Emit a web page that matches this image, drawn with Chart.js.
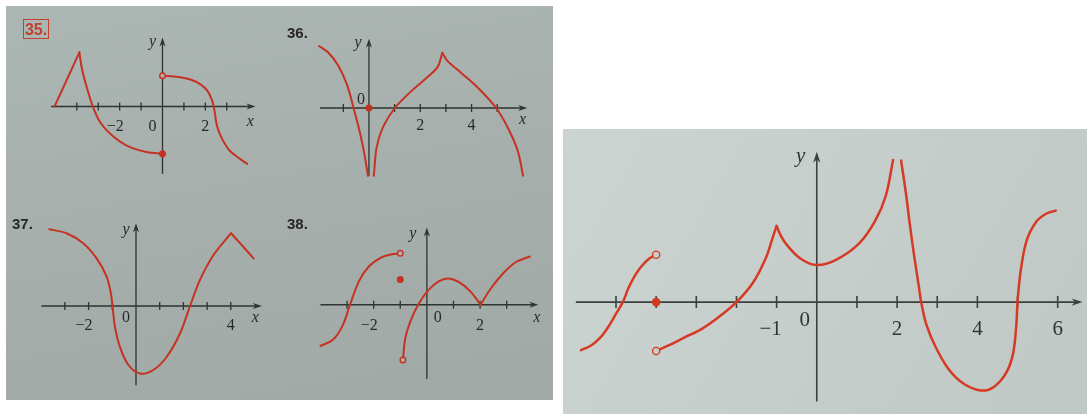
<!DOCTYPE html>
<html>
<head>
<meta charset="utf-8">
<script src="https://cdn.jsdelivr.net/npm/chart.js"></script>
<style>
  body { margin: 0; width: 1087px; height: 414px; background: #fff; position: relative; overflow: hidden; }
  .photo { position: absolute; }
  #leftPhoto { left: 6px; top: 6px; width: 547px; height: 394px; background: linear-gradient(170deg, #acb6b3 0%, #a5aeaa 55%, #a0a9a5 100%); }
  #rightPhoto { left: 563px; top: 129px; width: 524px; height: 285px; background: linear-gradient(120deg, #cbd4cf 0%, #c5cecb 50%, #bfc8c5 100%); }
  canvas { position: absolute; }
  .num { position: absolute; font: bold 15px 'Liberation Sans', Arial, sans-serif; color: #262626; line-height: 15px; }
  #n35 { left: 23px; top: 19px; width: 24px; height: 18px; border: 1.5px solid #c0412f; color: #c0412f; text-align: center; line-height: 19px; font-size: 16px; }
</style>
</head>
<body>
<div class="photo" id="leftPhoto"></div>
<div class="photo" id="rightPhoto"></div>
<canvas id="c35"></canvas>
<canvas id="c36"></canvas>
<canvas id="c37"></canvas>
<canvas id="c38"></canvas>
<canvas id="cMain"></canvas>
<div class="num" id="n35">35.</div>
<div class="num" style="left:287px; top:25px;">36.</div>
<div class="num" style="left:12px; top:216px;">37.</div>
<div class="num" style="left:287px; top:216px;">38.</div>
<script>
// ---- data (x, y in graph units) ----

// 35
const p35Rise = [[-5.04, 0], [-3.88, 2.57]];
const p35Fall = [[-3.88, 2.57], [-3.76, 1.79], [-3.51, 0.82], [-3.25, 0], [-2.91, -0.75], [-2.39, -1.34], [-1.64, -1.87], [-0.75, -2.16], [0, -2.24]];
const p35Right = [[0, 1.46], [0.75, 1.40], [1.34, 1.27], [1.79, 1.04], [2.09, 0.75], [2.31, 0.30], [2.42, -0.15], [2.54, -0.9], [2.76, -1.49], [3.13, -2.09], [3.58, -2.46], [3.96, -2.73]];
const p35Open = [[0, 1.46]];
const p35Closed = [[0, -2.24]];
const p35Ticks = [-4, -3, -2, -1, 1, 2, 3];
const p35Labels = ['−2', '2'];
const p35LabelAt = [-2, 2];

// 36
const p36Left = [[-1.95, 2.46], [-1.58, 2.19], [-1.2, 1.69], [-0.86, 0.94], [-0.6, 0], [-0.36, -0.94], [-0.18, -1.81], [-0.04, -2.69]];
const p36Mid = [[0.19, -2.69], [0.3, -1.56], [0.55, -0.75], [1.01, 0], [1.61, 0.63], [2.24, 1.19], [2.68, 1.63], [2.86, 2.19]];
const p36Right = [[2.86, 2.19], [3.05, 1.88], [3.61, 1.38], [4.24, 0.81], [4.96, 0], [5.43, -0.81], [5.8, -1.69], [6.01, -2.69]];
const p36Closed = [[0, 0]];
const p36Ticks = [-1, 1, 2, 3, 4, 5];
const p36Labels = ['2', '4'];
const p36LabelAt = [2, 4];

// 37
const p37Main = [[-3.66, 3.24], [-2.93, 3.07], [-2.23, 2.65], [-1.66, 2.01], [-1.24, 1.24], [-1.06, 0.54], [-0.99, 0], [-0.89, -0.87], [-0.68, -1.72], [-0.32, -2.49], [0.17, -2.85], [0.73, -2.7], [1.3, -2.14], [1.86, -1.15], [2.28, 0], [2.7, 1.1], [3.27, 2.15], [4.01, 3.07]];
const p37Tail = [[4.01, 3.07], [4.39, 2.65], [4.96, 2.01]];
const p37Ticks = [-3, -2, -1, 1, 2, 3, 4];
const p37Labels = ['−2', '4'];
const p37LabelAt = [-2, 4];

// 38
const p38Left = [[-4.0, -1.57], [-3.52, -1.33], [-3.16, -0.78], [-2.89, 0], [-2.55, 0.9], [-2.19, 1.45], [-1.71, 1.81], [-1.35, 1.92], [-1.0, 1.96]];
const p38Mid = [[-0.9, -2.11], [-0.81, -1.27], [-0.63, -0.66], [-0.33, 0], [0.04, 0.54], [0.46, 0.9], [0.82, 1.0], [1.24, 0.84], [1.66, 0.48], [2.02, 0]];
const p38Right = [[2.02, 0], [2.39, 0.6], [2.87, 1.2], [3.35, 1.63], [3.87, 1.84]];
const p38Open = [[-1, 1.96], [-0.9, -2.11]];
const p38Closed = [[-1, 0.96]];
const p38Ticks = [-3, -2, -1, 1, 2, 3];
const p38Labels = ['−2', '2'];
const p38LabelAt = [-2, 2];

// big graph on the right
const mainA = [[-5.87, -1.22], [-5.62, -1.10], [-5.38, -0.89], [-5.18, -0.61], [-5.02, -0.33], [-4.83, 0], [-4.70, 0.33], [-4.54, 0.65], [-4.38, 0.89], [-4.18, 1.10], [-4, 1.20]];
const mainB = [[-4, -1.24], [-3.69, -1.10], [-3.28, -0.89], [-2.88, -0.69], [-2.48, -0.41], [-2.0, 0], [-1.59, 0.49], [-1.26, 1.14], [-1.10, 1.63], [-1.0, 1.93]];
const mainC = [[-1.0, 1.93], [-0.89, 1.67], [-0.73, 1.43], [-0.40, 1.10], [0, 0.94], [0.48, 1.07], [1.05, 1.48], [1.45, 2.05], [1.72, 2.70], [1.90, 3.60]];
const mainD = [[2.10, 3.59], [2.22, 2.76], [2.32, 1.95], [2.43, 1.14], [2.54, 0.41], [2.60, 0], [2.73, -0.57], [2.96, -1.14], [3.29, -1.71], [3.66, -2.07], [4.09, -2.24], [4.41, -2.15], [4.72, -1.79], [4.89, -1.30], [4.97, -0.57], [5.0, 0], [5.07, 0.73], [5.22, 1.54], [5.46, 2.03], [5.71, 2.24], [5.95, 2.32]];
const mainOpen = [[-4, 1.20], [-4, -1.24]];
const mainClosed = [[-4, 0]];
const mainTicks = [-5, -4, -3, -2, -1, 1, 2, 3, 4, 5, 6];
const mainLabels = ['−1', '2', '4', '6'];
const mainLabelAt = [-1, 2, 4, 6];

// ---- drawing ----
const RED = 'rgb(198, 50, 34)';
const RED2 = 'rgb(214, 58, 36)';

function curve(pts, color, width, smooth) {
    return {
        data: pts.map(p => ({ x: p[0], y: p[1] })),
        showLine: true,
        borderColor: color,
        borderWidth: width,
        borderJoinStyle: 'round',
        borderCapStyle: 'round',
        pointRadius: 0,
        tension: smooth ? 0.35 : 0,
        fill: false,
        order: 1
    };
}

function dots(pts, fill, color, r) {
    return {
        data: pts.map(p => ({ x: p[0], y: p[1] })),
        showLine: false,
        pointRadius: r,
        pointBackgroundColor: fill,
        pointBorderColor: color,
        pointBorderWidth: 1.4,
        order: 0
    };
}

// axes through the origin, tick marks across the line, arrow heads
const axesPlugin = {
    id: 'axes',
    beforeDatasetsDraw(chart, args, o) {
        const ctx = chart.ctx;
        const X = v => chart.scales.x.getPixelForValue(v);
        const Y = v => chart.scales.y.getPixelForValue(v);
        const x0 = X(0), y0 = Y(0);
        ctx.save();
        ctx.strokeStyle = o.color;
        ctx.fillStyle = o.color;
        ctx.lineWidth = o.width;

        const xt = X(o.xTo), yt = Y(o.yTo);
        ctx.beginPath();
        ctx.moveTo(X(o.xFrom), y0);
        ctx.lineTo(xt - o.arrow * 0.6, y0);
        ctx.moveTo(x0, Y(o.yFrom));
        ctx.lineTo(x0, yt + o.arrow * 0.6);
        o.ticks.forEach(v => {
            ctx.moveTo(X(v), y0 - o.tick);
            ctx.lineTo(X(v), y0 + o.tick);
        });
        ctx.stroke();

        // arrow heads
        ctx.beginPath();
        ctx.moveTo(xt, y0);
        ctx.lineTo(xt - o.arrow, y0 - o.arrowW);
        ctx.lineTo(xt - o.arrow * 0.7, y0);
        ctx.lineTo(xt - o.arrow, y0 + o.arrowW);
        ctx.closePath();
        ctx.moveTo(x0, yt);
        ctx.lineTo(x0 - o.arrowW, yt + o.arrow);
        ctx.lineTo(x0, yt + o.arrow * 0.7);
        ctx.lineTo(x0 + o.arrowW, yt + o.arrow);
        ctx.closePath();
        ctx.fill();

        // tick labels
        ctx.fillStyle = o.textColor;
        ctx.font = o.font;
        ctx.textAlign = 'center';
        ctx.textBaseline = 'middle';
        o.labels.forEach((t, i) => {
            let dx = 0;
            if (t.startsWith('−')) dx = -ctx.measureText('−').width / 2;
            ctx.fillText(t, X(o.labelAt[i]) + dx, y0 + o.labelDy);
        });
        ctx.fillText('0', x0 + o.zero[0], y0 + o.zero[1]);

        ctx.font = 'italic ' + o.font;
        if (o.xName) ctx.fillText('x', X(o.xName[0]), y0 + o.xName[1]);
        ctx.fillText('y', x0 + o.yName[0], Y(o.yName[1]));
        ctx.restore();
    }
};

function makePanel(id, rect, origin, unit, datasets, axis) {
    const cv = document.getElementById(id);
    cv.style.left = rect[0] + 'px';
    cv.style.top = rect[1] + 'px';
    cv.width = rect[2];
    cv.height = rect[3];
    new Chart(cv, {
        type: 'line',
        data: { datasets: datasets },
        options: {
            responsive: false,
            animation: false,
            devicePixelRatio: 1,
            events: [],
            layout: { padding: 0 },
            plugins: {
                legend: { display: false },
                tooltip: { enabled: false },
                axes: axis
            },
            scales: {
                x: { type: 'linear', display: false, min: (rect[0] - origin[0]) / unit, max: (rect[0] + rect[2] - origin[0]) / unit },
                y: { type: 'linear', display: false, min: (origin[1] - rect[1] - rect[3]) / unit, max: (origin[1] - rect[1]) / unit }
            }
        },
        plugins: [axesPlugin]
    });
}

const smallAxis = {
    color: '#2f3331', textColor: '#2a2a2a', width: 1.3, tick: 4, arrow: 9, arrowW: 3,
    font: '16px "Liberation Serif", serif'
};
const BG_L = '#a9b2ae';
const BG_R = '#c8d0cc';

makePanel('c35', [6, 6, 274, 194], [163.3, 106.7], 22.3, [
    curve(p35Rise, RED, 2, false),
    curve(p35Fall, RED, 2, true),
    curve(p35Right, RED, 2, true),
    dots(p35Open, BG_L, RED, 2.8),
    dots(p35Closed, RED, RED, 2.8)
], Object.assign({}, smallAxis, {
    xFrom: -5.2, xTo: 4.34, yFrom: -3.2, yTo: 3.28,
    ticks: p35Ticks, labels: p35Labels, labelAt: p35LabelAt, labelDy: 20,
    zero: [-10, 20], xName: [4.1, 15], yName: [-10, 3.06]
}));

makePanel('c36', [280, 6, 273, 194], [367, 108.3], 26.7, [
    curve(p36Left, RED, 2, true),
    curve(p36Mid, RED, 2, true),
    curve(p36Right, RED, 2, true),
    dots(p36Closed, RED, RED, 2.8)
], Object.assign({}, smallAxis, {
    xFrom: -1.91, xTo: 6.17, yFrom: -2.69, yTo: 2.75,
    ticks: p36Ticks, labels: p36Labels, labelAt: p36LabelAt, labelDy: 18,
    zero: [-8, -8], xName: [5.99, 12], yName: [-11, 2.59]
}));

makePanel('c37', [6, 200, 274, 200], [136, 306], 23.7, [
    curve(p37Main, RED, 2, true),
    curve(p37Tail, RED, 2, true)
], Object.assign({}, smallAxis, {
    xFrom: -3.99, xTo: 5.31, yFrom: -3.34, yTo: 3.49,
    ticks: p37Ticks, labels: p37Labels, labelAt: p37LabelAt, labelDy: 20,
    zero: [-10, 12], xName: [5.03, 12], yName: [-10, 3.21]
}));

makePanel('c38', [280, 200, 273, 200], [427.3, 305], 27.7, [
    curve(p38Left, RED, 2, true),
    curve(p38Mid, RED, 2, true),
    curve(p38Right, RED, 2, true),
    dots(p38Open, BG_L, RED, 2.8),
    dots(p38Closed, RED, RED, 2.8)
], Object.assign({}, smallAxis, {
    xFrom: -4.0, xTo: 4.19, yFrom: -2.83, yTo: 2.95,
    ticks: p38Ticks, labels: p38Labels, labelAt: p38LabelAt, labelDy: 21,
    zero: [11, 13], xName: [4.13, 13], yName: [-14, 2.71]
}));

makePanel('cMain', [563, 129, 524, 285], [816.6, 303.3], 41, [
    curve(mainA, RED2, 2.5, true),
    curve(mainB, RED2, 2.5, true),
    curve(mainC, RED2, 2.5, true),
    curve(mainD, RED2, 2.5, true),
    dots(mainOpen, BG_R, RED2, 3.6),
    dots(mainClosed, RED2, RED2, 3.6)
], {
    color: '#3d403f', textColor: '#333', width: 1.6, tick: 6, arrow: 11, arrowW: 3.6,
    font: '21px "Liberation Serif", serif',
    xFrom: -6.0, xTo: 6.62, yFrom: -2.52, yTo: 3.81,
    ticks: mainTicks, labels: mainLabels, labelAt: mainLabelAt, labelDy: 27,
    zero: [-12, 18], xName: null, yName: [-16, 3.7]
});
</script>
</body>
</html>
